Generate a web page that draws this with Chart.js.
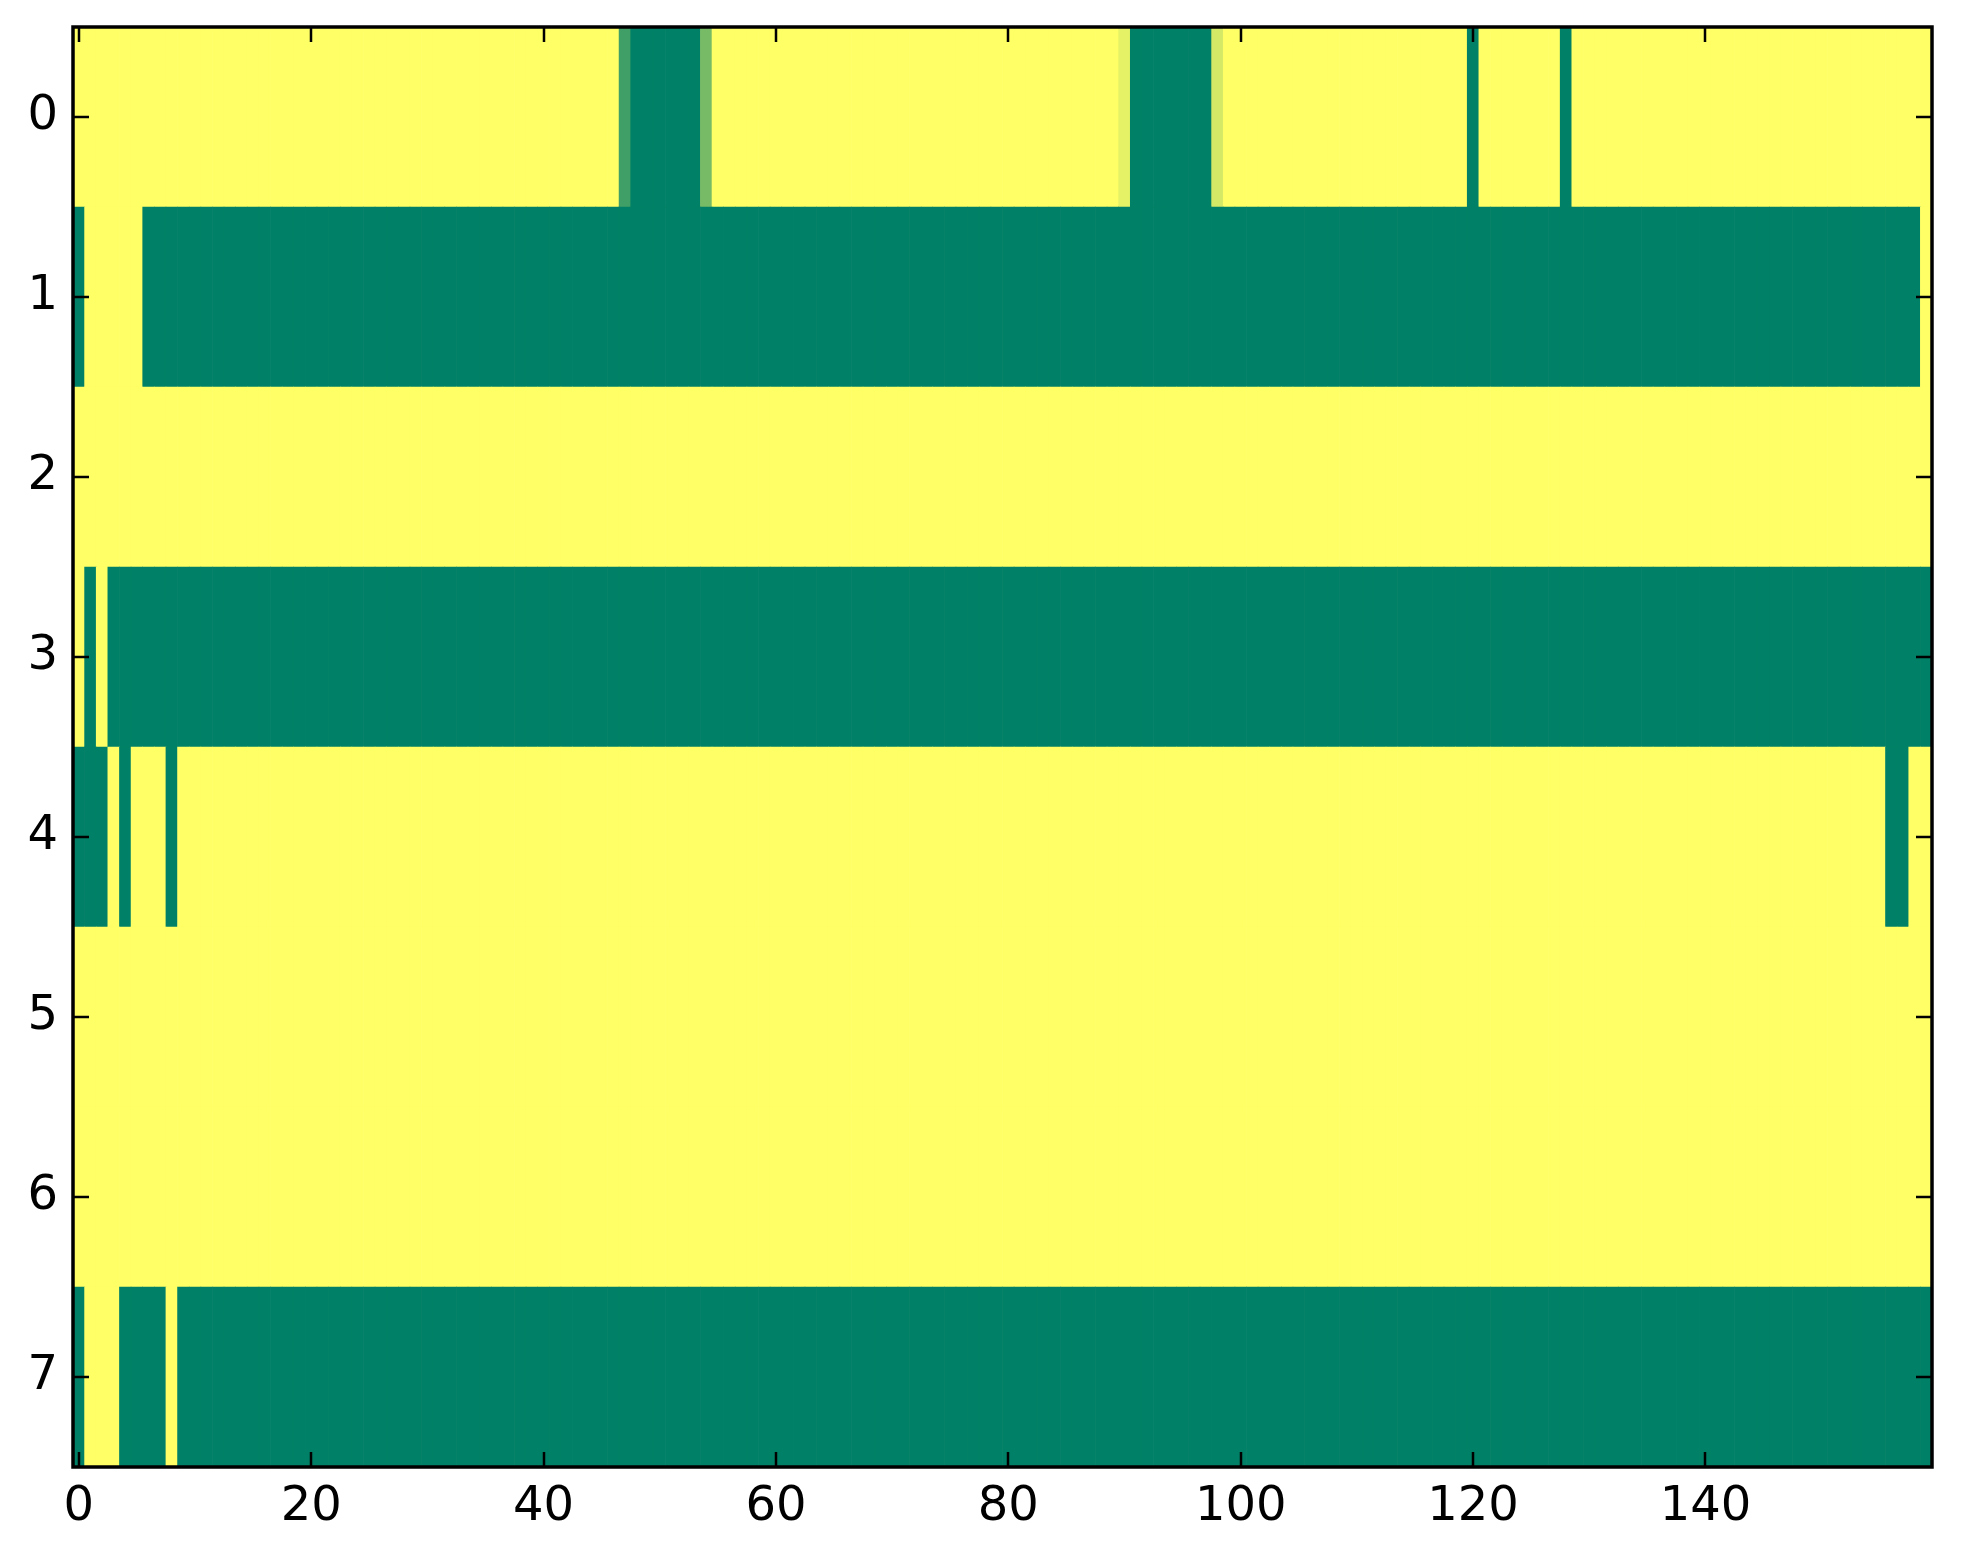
<!DOCTYPE html>
<html>
<head>
<meta charset="utf-8">
<script src="https://cdn.jsdelivr.net/npm/chart.js@4.4.1/dist/chart.umd.min.js"></script>
<style>
  html, body { margin: 0; padding: 0; background: #fff; }
  #wrap { width: 1963px; height: 1564px; }
</style>
</head>
<body>
<div id="wrap"><canvas id="heat" width="1963" height="1564"></canvas></div>
<script>
// heatmap values, 8 rows x 160 columns (0 = green, 1 = yellow)
const rowLabels = ['0', '1', '2', '3', '4', '5', '6', '7'];
const xTicks = [0, 20, 40, 60, 80, 100, 120, 140];

const row0 = [
  1,1,1,1,1,1,1,1,1,1,1,1,1,1,1,1,1,1,1,1,
  1,1,1,1,1,1,1,1,1,1,1,1,1,1,1,1,1,1,1,1,
  1,1,1,1,1,1,1,0.25,0,0,0,0,0,0,0.47,1,1,1,1,1,
  1,1,1,1,1,1,1,1,1,1,1,1,1,1,1,1,1,1,1,1,
  1,1,1,1,1,1,1,1,1,1,0.9,0,0,0,0,0,0,0,0.83,1,
  1,1,1,1,1,1,1,1,1,1,1,1,1,1,1,1,1,1,1,1,
  0,1,1,1,1,1,1,1,0,1,1,1,1,1,1,1,1,1,1,1,
  1,1,1,1,1,1,1,1,1,1,1,1,1,1,1,1,1,1,1,1
];
const row1 = [
  0,1,1,1,1,1,0,0,0,0,0,0,0,0,0,0,0,0,0,0,
  0,0,0,0,0,0,0,0,0,0,0,0,0,0,0,0,0,0,0,0,
  0,0,0,0,0,0,0,0,0,0,0,0,0,0,0,0,0,0,0,0,
  0,0,0,0,0,0,0,0,0,0,0,0,0,0,0,0,0,0,0,0,
  0,0,0,0,0,0,0,0,0,0,0,0,0,0,0,0,0,0,0,0,
  0,0,0,0,0,0,0,0,0,0,0,0,0,0,0,0,0,0,0,0,
  0,0,0,0,0,0,0,0,0,0,0,0,0,0,0,0,0,0,0,0,
  0,0,0,0,0,0,0,0,0,0,0,0,0,0,0,0,0,0,0,1
];
const row2 = [
  1,1,1,1,1,1,1,1,1,1,1,1,1,1,1,1,1,1,1,1,
  1,1,1,1,1,1,1,1,1,1,1,1,1,1,1,1,1,1,1,1,
  1,1,1,1,1,1,1,1,1,1,1,1,1,1,1,1,1,1,1,1,
  1,1,1,1,1,1,1,1,1,1,1,1,1,1,1,1,1,1,1,1,
  1,1,1,1,1,1,1,1,1,1,1,1,1,1,1,1,1,1,1,1,
  1,1,1,1,1,1,1,1,1,1,1,1,1,1,1,1,1,1,1,1,
  1,1,1,1,1,1,1,1,1,1,1,1,1,1,1,1,1,1,1,1,
  1,1,1,1,1,1,1,1,1,1,1,1,1,1,1,1,1,1,1,1
];
const row3 = [
  1,0,1,0,0,0,0,0,0,0,0,0,0,0,0,0,0,0,0,0,
  0,0,0,0,0,0,0,0,0,0,0,0,0,0,0,0,0,0,0,0,
  0,0,0,0,0,0,0,0,0,0,0,0,0,0,0,0,0,0,0,0,
  0,0,0,0,0,0,0,0,0,0,0,0,0,0,0,0,0,0,0,0,
  0,0,0,0,0,0,0,0,0,0,0,0,0,0,0,0,0,0,0,0,
  0,0,0,0,0,0,0,0,0,0,0,0,0,0,0,0,0,0,0,0,
  0,0,0,0,0,0,0,0,0,0,0,0,0,0,0,0,0,0,0,0,
  0,0,0,0,0,0,0,0,0,0,0,0,0,0,0,0,0,0,0,0
];
const row4 = [
  0,0,0,1,0,1,1,1,0,1,1,1,1,1,1,1,1,1,1,1,
  1,1,1,1,1,1,1,1,1,1,1,1,1,1,1,1,1,1,1,1,
  1,1,1,1,1,1,1,1,1,1,1,1,1,1,1,1,1,1,1,1,
  1,1,1,1,1,1,1,1,1,1,1,1,1,1,1,1,1,1,1,1,
  1,1,1,1,1,1,1,1,1,1,1,1,1,1,1,1,1,1,1,1,
  1,1,1,1,1,1,1,1,1,1,1,1,1,1,1,1,1,1,1,1,
  1,1,1,1,1,1,1,1,1,1,1,1,1,1,1,1,1,1,1,1,
  1,1,1,1,1,1,1,1,1,1,1,1,1,1,1,1,0,0,1,1
];
const row5 = [
  1,1,1,1,1,1,1,1,1,1,1,1,1,1,1,1,1,1,1,1,
  1,1,1,1,1,1,1,1,1,1,1,1,1,1,1,1,1,1,1,1,
  1,1,1,1,1,1,1,1,1,1,1,1,1,1,1,1,1,1,1,1,
  1,1,1,1,1,1,1,1,1,1,1,1,1,1,1,1,1,1,1,1,
  1,1,1,1,1,1,1,1,1,1,1,1,1,1,1,1,1,1,1,1,
  1,1,1,1,1,1,1,1,1,1,1,1,1,1,1,1,1,1,1,1,
  1,1,1,1,1,1,1,1,1,1,1,1,1,1,1,1,1,1,1,1,
  1,1,1,1,1,1,1,1,1,1,1,1,1,1,1,1,1,1,1,1
];
const row6 = [
  1,1,1,1,1,1,1,1,1,1,1,1,1,1,1,1,1,1,1,1,
  1,1,1,1,1,1,1,1,1,1,1,1,1,1,1,1,1,1,1,1,
  1,1,1,1,1,1,1,1,1,1,1,1,1,1,1,1,1,1,1,1,
  1,1,1,1,1,1,1,1,1,1,1,1,1,1,1,1,1,1,1,1,
  1,1,1,1,1,1,1,1,1,1,1,1,1,1,1,1,1,1,1,1,
  1,1,1,1,1,1,1,1,1,1,1,1,1,1,1,1,1,1,1,1,
  1,1,1,1,1,1,1,1,1,1,1,1,1,1,1,1,1,1,1,1,
  1,1,1,1,1,1,1,1,1,1,1,1,1,1,1,1,1,1,1,1
];
const row7 = [
  0,1,1,1,0,0,0,0,1,0,0,0,0,0,0,0,0,0,0,0,
  0,0,0,0,0,0,0,0,0,0,0,0,0,0,0,0,0,0,0,0,
  0,0,0,0,0,0,0,0,0,0,0,0,0,0,0,0,0,0,0,0,
  0,0,0,0,0,0,0,0,0,0,0,0,0,0,0,0,0,0,0,0,
  0,0,0,0,0,0,0,0,0,0,0,0,0,0,0,0,0,0,0,0,
  0,0,0,0,0,0,0,0,0,0,0,0,0,0,0,0,0,0,0,0,
  0,0,0,0,0,0,0,0,0,0,0,0,0,0,0,0,0,0,0,0,
  0,0,0,0,0,0,0,0,0,0,0,0,0,0,0,0,0,0,0,0
];
const rows = [row0, row1, row2, row3, row4, row5, row6, row7];

// matplotlib "summer" colormap
function summer(v) {
    const r = Math.round(255 * v);
    const g = Math.round(127.5 + 127.5 * v);
    return `rgb(${r},${g},102)`;
}

// one floating bar per cell
const cells = [];
const cellColors = [];
rows.forEach((row, r) => {
    row.forEach((v, c) => {
        cells.push({ x: [c - 0.5, c + 0.5], y: rowLabels[r] });
        cellColors.push(summer(v));
    });
});

// inward ticks on all four sides + the box
const frame = {
    id: 'frame',
    afterDatasetsDraw(chart) {
        const { ctx, chartArea: a, scales: { x, y } } = chart;
        ctx.save();
        ctx.strokeStyle = '#000';
        ctx.lineWidth = 2.5;
        ctx.beginPath();
        x.ticks.forEach((t) => {
            const px = Math.round(x.getPixelForValue(t.value));
            ctx.moveTo(px, a.top); ctx.lineTo(px, a.top + 15);
            ctx.moveTo(px, a.bottom); ctx.lineTo(px, a.bottom - 15);
        });
        y.ticks.forEach((t, i) => {
            const py = Math.round(y.getPixelForTick(i));
            ctx.moveTo(a.left, py); ctx.lineTo(a.left + 16, py);
            ctx.moveTo(a.right, py); ctx.lineTo(a.right - 16, py);
        });
        ctx.stroke();
        ctx.lineWidth = 3.5;
        ctx.strokeRect(a.left, a.top, a.width, a.height);
        ctx.restore();
    }
};

const tickFont = { family: 'DejaVu Sans', size: 48 };

new Chart(document.getElementById('heat').getContext('2d'), {
    type: 'bar',
    data: {
        labels: rowLabels,
        datasets: [{
            data: cells,
            backgroundColor: cellColors,
            borderWidth: 0,
            barPercentage: 1,
            categoryPercentage: 1
        }]
    },
    options: {
        indexAxis: 'y',
        responsive: false,
        animation: false,
        devicePixelRatio: 1,
        layout: { padding: { top: 27, right: 31, left: 0, bottom: 0 } },
        plugins: { legend: { display: false }, tooltip: { enabled: false } },
        scales: {
            x: {
                type: 'linear',
                min: -0.5,
                max: 159.5,
                grid: { display: false, drawTicks: false },
                border: { display: false },
                afterBuildTicks: (s) => { s.ticks = xTicks.map((v) => ({ value: v })); },
                afterFit: (s) => { s.height = 97; s.paddingLeft = 0; s.paddingRight = 0; },
                ticks: { font: tickFont, color: '#000', padding: 12, maxRotation: 0, autoSkip: false }
            },
            y: {
                type: 'category',
                offset: true,
                grid: { display: false, drawTicks: false },
                border: { display: false },
                afterFit: (s) => { s.width = 73; s.paddingTop = 0; s.paddingBottom = 0; },
                ticks: { font: tickFont, color: '#000', padding: 15 }
            }
        }
    },
    plugins: [frame]
});
</script>
</body>
</html>
